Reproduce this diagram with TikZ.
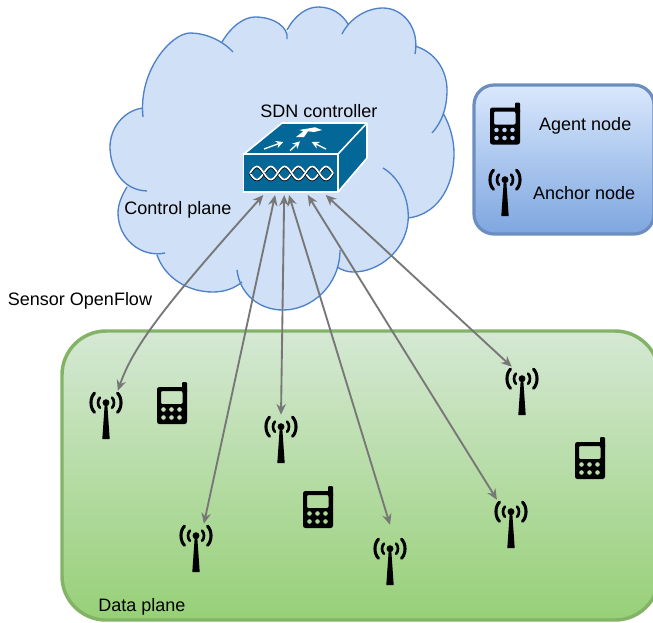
\documentclass[tikz,border=0pt]{standalone}
\usepackage{fontspec}
\setmainfont{Liberation Sans}
\usetikzlibrary{arrows.meta,positioning}

\definecolor{cloudfill}{HTML}{CFE0F7}
\definecolor{cloudline}{HTML}{4F81C9}
\definecolor{legendtop}{HTML}{DAE8FC}
\definecolor{legendbot}{HTML}{7EA6E0}
\definecolor{legendline}{HTML}{6C8EBF}
\definecolor{datatop}{HTML}{D5E8D4}
\definecolor{databot}{HTML}{97D077}
\definecolor{dataline}{HTML}{82B366}
\definecolor{ctrlblue}{HTML}{036897}
\definecolor{linkgray}{HTML}{777777}

\begin{document}
\begin{tikzpicture}[x=0.75pt,y=-0.75pt,>={Stealth[length=5.5pt,width=5.5pt]}]
	\tikzstyle{txt}=[inner sep=0pt,font=\fontsize{13.5}{16}\selectfont]
	\tikzstyle{link}=[{Stealth[length=8pt,width=7pt]}-{Stealth[length=8pt,width=7pt]},draw=linkgray,line width=1.4pt]
	\tikzstyle{anchornode}=[inner sep=0pt,minimum width=25.5pt,minimum height=36pt,
	path picture={
		\begin{scope}[shift={(path picture bounding box.center)}]
		\fill (0,-15) -- (-1.2,-12) -- (-3.7,24) -- (3.7,24) -- (1.2,-12) -- cycle;
		\fill (0,-12.3) circle[radius=2.6pt];
		\foreach \s in {1,-1}{
			\draw[line width=2.3pt,line cap=round] (\s*11.5,-21.9) .. controls (\s*16.2,-17.3) and (\s*16.2,-7.3) .. (\s*11.5,-2.7);
			\draw[line width=2pt,line cap=round] (\s*6.1,-17.4) .. controls (\s*8.6,-14.8) and (\s*8.6,-9.8) .. (\s*6.1,-7.2);
		}
		\end{scope}
	}]
	\tikzstyle{agentnode}=[inner sep=0pt,minimum width=22.5pt,minimum height=32pt,
	path picture={
		\begin{scope}[shift={(path picture bounding box.center)}]
		\fill[rounded corners=0.8pt] (10,-21) rectangle (15,-10);
		\fill[even odd rule] [rounded corners=1.8pt] (-15,-16) rectangle (15,21)
			[rounded corners=0.8pt] (-11,-12) rectangle (10.5,1)
			[sharp corners] (-8.5,6.5) circle[radius=1.8pt] (-0.5,6.5) circle[radius=1.8pt] (7.5,6.5) circle[radius=1.8pt]
			(-8.5,14.5) circle[radius=1.8pt] (-0.5,14.5) circle[radius=1.8pt] (7.5,14.5) circle[radius=1.8pt];
		\end{scope}
	}]

\useasboundingbox (0,0) rectangle (653,622);

% boxes
\node[inner sep=0pt,minimum width=447.75pt,minimum height=216.75pt,rounded corners=33pt,
	draw=dataline,line width=2.6pt,top color=datatop,bottom color=databot] (dataplane) at (360.5,475.5) {};
\node[inner sep=0pt,minimum width=135pt,minimum height=111.75pt,rounded corners=15pt,
	draw=legendline,line width=2.4pt,top color=legendtop,bottom color=legendbot] (legend) at (564,159.5) {};

% cloud
\fill[cloudfill] (143,112) -- (175,60) -- (222,42) -- (255,25) -- (287,32) -- (318,15) -- (348,24) -- (383,20) -- (415,46) -- (438,80) -- (443,113) -- (445,170) -- (408,218) -- (385,250) -- (337,267) -- (285,300) -- (242,282) -- (200,282) -- (157,255) -- (128,225) -- (127,187) -- (118,150) -- cycle;
\draw[draw=cloudline,fill=cloudfill,line width=1pt]
	(143,117) .. controls (138,70) and (172,33) .. (190,33) .. controls (205,33) and (222,40) .. (233,52)
	(222,42) .. controls (232,25) and (245,17) .. (255,17) .. controls (275,17) and (289,28) .. (287,39)
	(287,30) .. controls (295,15) and (307,7) .. (318,7) .. controls (332,7) and (342,14) .. (348,24)
	(342,34) .. controls (350,18) and (367,8) .. (383,8) .. controls (403,8) and (420,28) .. (415,54)
	(415,46) .. controls (435,52) and (447,70) .. (447,90) .. controls (447,108) and (442,122) .. (432,133)
	(443,113) .. controls (450,125) and (454,140) .. (454,153) .. controls (454,190) and (435,215) .. (408,218)
	(383,168) .. controls (400,178) and (410,200) .. (408,222) .. controls (405,250) and (380,272) .. (353,272) .. controls (347,272) and (342,270) .. (337,267)
	(340,250) .. controls (340,285) and (312,310) .. (283,310) .. controls (260,310) and (240,295) .. (237,270)
	(242,282) .. controls (235,288) and (225,292) .. (213,292) .. controls (188,292) and (165,278) .. (157,255)
	(165,253) .. controls (140,258) and (118,238) .. (118,213) .. controls (118,204) and (122,195) .. (127,187)
	(147,191) .. controls (120,190) and (110,165) .. (110,147) .. controls (110,127) and (125,110) .. (143,108);

% controller
\draw[fill=ctrlblue,draw=white,line width=1.2pt,line join=round] (244,154) -- (282,123) -- (367,123) -- (367,158) -- (338,192) -- (338,154) -- cycle;
\draw[white,line width=1.2pt] (338,154) -- (367,123);
\fill[white] (296,137) -- (303.3,131.3) -- (299.3,130) -- (315,127.3) -- (322,130) -- (314,132) -- (308,131.3) -- (304,137) -- cycle;
\draw[->,white,line width=1pt] (264,149) -- (283.3,142);
\draw[->,white,line width=1pt] (290,150.7) -- (300,141.3);
\draw[->,white,line width=1pt] (326,149) -- (311.7,142);
\node[inner sep=0pt,outer sep=2.25pt,minimum width=70.5pt,minimum height=28.5pt,fill=ctrlblue,draw=white,line width=1.2pt] (ctrl) at (290.5,173) {};
\foreach \s in {1,-1}{
	\draw[black,line width=1.9pt] plot[domain=250:333,samples=70] (\x,{173.5+\s*6.5*sin((\x-250)/13.83*180)});
	\draw[white,line width=1.3pt] plot[domain=250:333,samples=70] (\x,{173+\s*6.5*sin((\x-250)/13.83*180)});
}

% nodes of the data plane
\node[anchornode] (a1) at (106,415) {};
\node[anchornode] (a2) at (196,548) {};
\node[anchornode] (a3) at (281,439) {};
\node[anchornode] (a4) at (390,561) {};
\node[anchornode] (a5) at (511,524) {};
\node[anchornode] (a6) at (522,391) {};
\coordinate[above=9pt of a4.north] (a4top);
\node[agentnode] (m1) at (172,403) {};
\node[agentnode] (m2) at (318,507) {};
\node[agentnode] (m3) at (590,458) {};

% legend
\node[agentnode] (lm) at (505,123.5) {};
\node[anchornode] (la) at (505,192) {};
\node[txt,right=14pt of lm,yshift=-1.5pt] (lmtxt) {Agent node};
\node[txt,right=8pt of la,yshift=-0.8pt] (latxt) {Anchor node};

% labels
\node[txt] (sdn) at (319,111) {SDN controller};
\node[txt] (cp) at (178,210) {Control plane};
\node[txt] (sof) at (80,301) {Sensor OpenFlow};
\node[txt] (dp) at (142,607) {Data plane};

% links
\draw[link] (ctrl.219) .. controls (163,307) and (133,347) .. (a1.64);
\draw[link] (ctrl.235) -- (a2.72);
\draw[link] (ctrl.254) -- (a3.north);
\draw[link] (ctrl.266) -- (a4top);
\draw[link] (ctrl.308) -- (a5.120);
\draw[link] (ctrl.328) -- (a6.113);
\end{tikzpicture}
\end{document}
